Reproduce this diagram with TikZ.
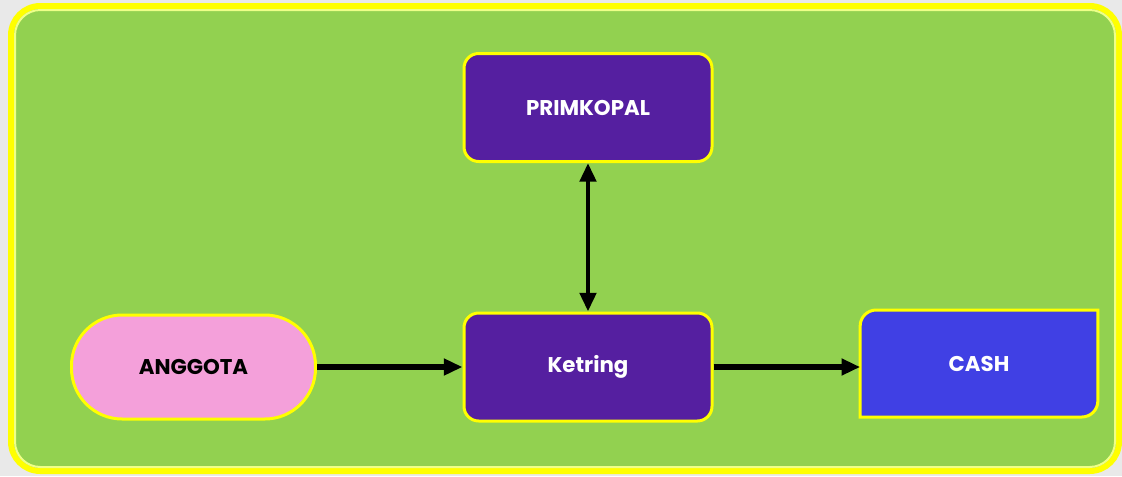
\documentclass[tikz,border=0pt]{standalone}
\usepackage{fontspec}
\setmainfont{Poppins}
\usetikzlibrary{arrows.meta,backgrounds}
\definecolor{panelgreen}{HTML}{92D150}
\definecolor{kopurple}{HTML}{551FA0}
\definecolor{cashblue}{HTML}{4040E4}
\definecolor{pinkbox}{HTML}{F4A0DA}
\definecolor{rim}{HTML}{FFFF00}
\definecolor{rimlight}{HTML}{EEFF88}
\definecolor{greyback}{HTML}{E9E9E9}
\tikzset{
  box/.style={draw=rim, line width=2.25pt, rounded corners=11pt, fill=kopurple,
    minimum width=186pt, minimum height=81pt, text=white,
    font=\bfseries\fontsize{16}{19}\selectfont},
  link/.style={line width=4pt, -{Triangle[length=14pt,width=12pt]}},
}
\begin{document}
\begin{tikzpicture}[x=0.75pt,y=-0.75pt]
 \useasboundingbox (0,0) rectangle (1122,476);
 % the boxes
 \node[box] (primkopal) at (588,107.5) {PRIMKOPAL};
 \node[box] (ketring) at (588,367) {Ketring};
 \node[box, fill=pinkbox, text=black, rounded corners=38pt, minimum width=183pt, minimum height=78pt]
   (anggota) at (193.5,367) {ANGGOTA};
 \node[box, draw=none, fill=none, minimum width=176pt, minimum height=78pt] (cash) at (979,363.5) {CASH};
 \begin{scope}[on background layer]
  \fill[greyback] (0,0) rectangle (1122,476);
  % green panel
  \draw[rim, line width=4.5pt, fill=panelgreen, rounded corners=22pt] (11,6) rectangle (1119,471);
  \draw[rimlight, line width=1.5pt, rounded corners=19pt] (15,10) rectangle (1115,467);
  \draw[rim, line width=2.25pt, fill=cashblue]
    (cash.west) [rounded corners=12pt] -- (cash.north west) [sharp corners] -- (cash.north east)
    [rounded corners=12pt] -- (cash.south east) [sharp corners] -- (cash.south west) -- cycle;
 \end{scope}
 % arrows
 \draw[link] (anggota.east) -- (ketring.west);
 \draw[link] (ketring.east) -- (cash.west |- ketring.east);
 \draw[line width=3.5pt, {Triangle[length=14pt,width=12pt]}-{Triangle[length=14pt,width=12pt]}]
   (primkopal.south) -- (ketring.north);
\end{tikzpicture}
\end{document}
